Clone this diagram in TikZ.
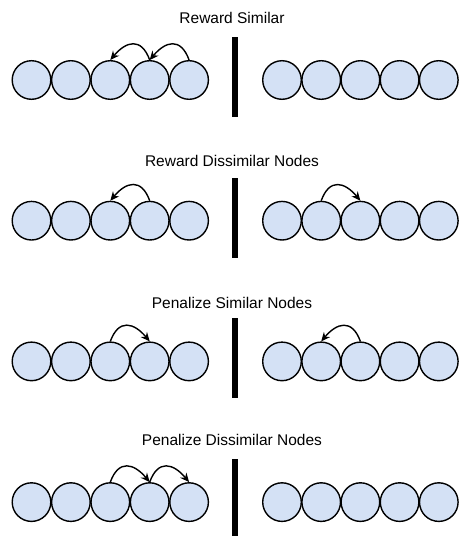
\documentclass[tikz,border=0pt]{standalone}
\usepackage{fontspec}
\setmainfont{Liberation Sans}
\usepackage{xcolor}
\usetikzlibrary{arrows.meta}
\definecolor{nodeblue}{HTML}{D4E1F5}

\begin{document}
\begin{tikzpicture}[
  x=1pt, y=1pt,
  font=\fontsize{15.5}{18}\selectfont,
  ball/.style={circle,draw,line width=1.4pt,fill=nodeblue,minimum size=38.6pt,inner sep=0pt},
  caption/.style={inner sep=0pt},
  divider/.style={fill=black,minimum width=6pt,minimum height=80pt,inner sep=0pt},
  hop/.style={-{Stealth[length=9pt,width=8pt]},line width=1.4pt,looseness=1.6},
  hopleft/.style={hop,out=110,in=50},
  hopright/.style={hop,out=70,in=130}
]
\useasboundingbox (0,0) rectangle (460,-536);

% one row per case: caption, divider, left and right chain
\foreach \r/\y/\ty/\txt in {1/80/17.7/Reward Similar,
                            2/220.7/160.5/Reward Dissimilar Nodes,
                            3/361.4/302.5/Penalize Similar Nodes,
                            4/502.1/439.5/Penalize Dissimilar Nodes}{
  \node[caption] (t\r) at (232,-\ty) {\txt};
  \node[divider] (bar\r) at (235.3,{3-\y}) {};
  \foreach \i in {1,...,5}{
    \node[ball] (l\r-\i) at ({31.5+39.4*(\i-1)},-\y) {};
    \node[ball] (r\r-\i) at ({282+39.2*(\i-1)},-\y) {};
  }
}

\draw[hopleft] (l1-5.north) to (l1-4.north);
\draw[hopleft] (l1-4.north) to (l1-3.north);

\draw[hopleft] (l2-4.north) to (l2-3.north);
\draw[hopright] (r2-2.north) to (r2-3.north);

\draw[hopright] (l3-3.north) to (l3-4.north);
\draw[hopleft] (r3-3.north) to (r3-2.north);

\draw[hopright] (l4-3.north) to (l4-4.north);
\draw[hopright] (l4-4.north) to (l4-5.north);
\end{tikzpicture}
\end{document}
